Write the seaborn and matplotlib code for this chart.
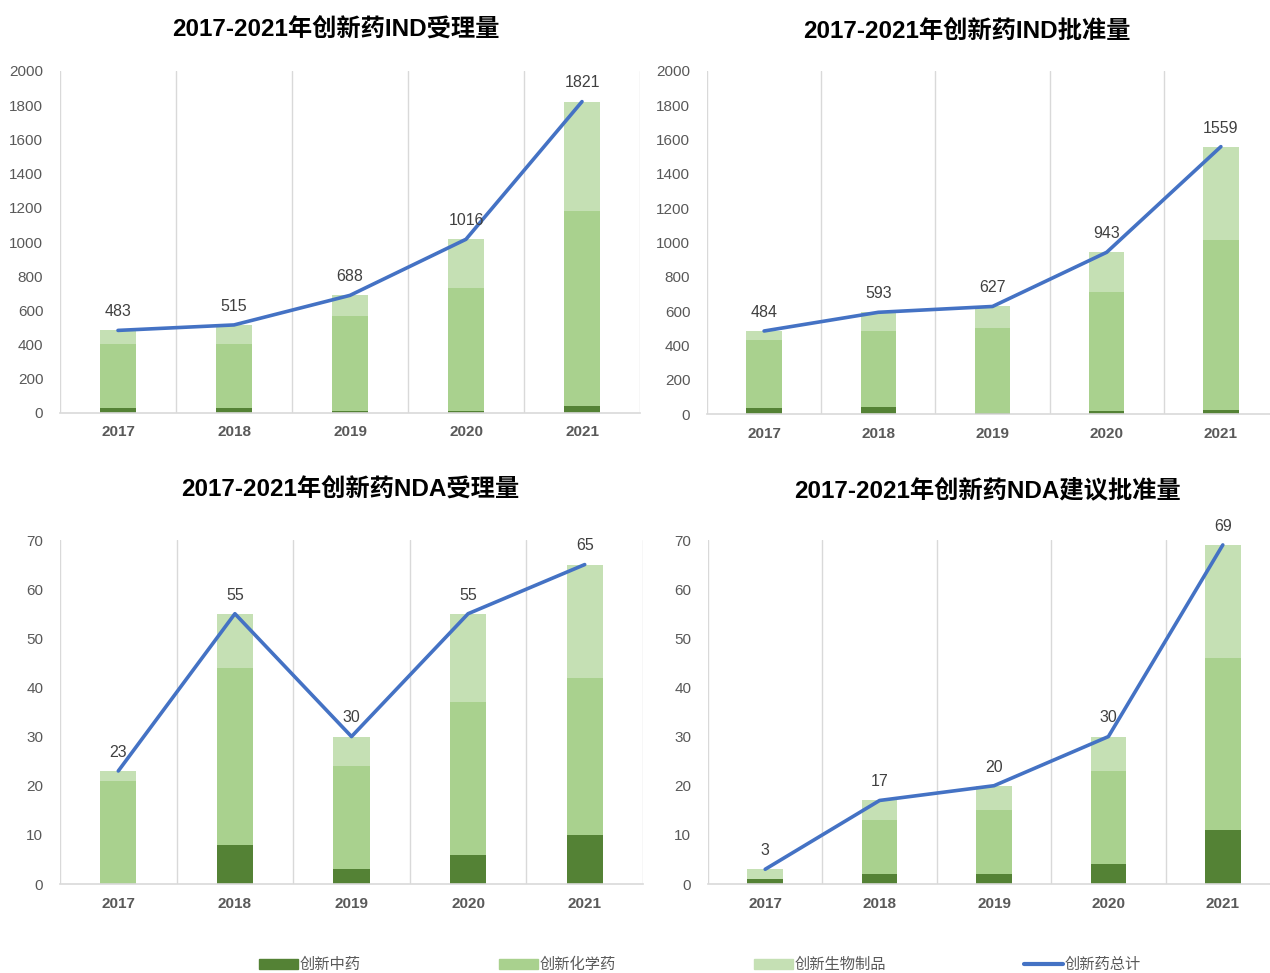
import numpy as np
import seaborn as sns
import matplotlib.pyplot as plt
from matplotlib.patches import Patch
from matplotlib.lines import Line2D

# ---------------- data ----------------
years = ['2017', '2018', '2019', '2020', '2021']

# IND 受理量
ind_acc_tcm = [28, 28, 13, 13, 41]
ind_acc_chem = [376, 376, 554, 720, 1141]
ind_acc_bio = [79, 111, 121, 283, 639]
ind_acc_total = [483, 515, 688, 1016, 1821]

# IND 批准量
ind_app_tcm = [33, 39, 8, 16, 23]
ind_app_chem = [398, 447, 493, 695, 993]
ind_app_bio = [53, 107, 126, 232, 543]
ind_app_total = [484, 593, 627, 943, 1559]

# NDA 受理量
nda_acc_tcm = [0, 8, 3, 6, 10]
nda_acc_chem = [21, 36, 21, 31, 32]
nda_acc_bio = [2, 11, 6, 18, 23]
nda_acc_total = [23, 55, 30, 55, 65]

# NDA 建议批准量
nda_app_tcm = [1, 2, 2, 4, 11]
nda_app_chem = [0, 11, 13, 19, 35]
nda_app_bio = [2, 4, 5, 7, 23]
nda_app_total = [3, 17, 20, 30, 69]

titles = ['2017-2021年创新药IND受理量', '2017-2021年创新药IND批准量',
          '2017-2021年创新药NDA受理量', '2017-2021年创新药NDA建议批准量']
legend_labels = ['创新中药', '创新化学药', '创新生物制品', '创新药总计']

# ---------------- style ----------------
c_tcm = '#548235'
c_chem = '#A9D18E'
c_bio = '#C5E0B4'
c_line = '#4472C4'
grid_c = '#D9D9D9'
txt_c = '#404040'

sns.set_theme(style="white")
plt.rcParams['font.family'] = ['Liberation Sans', 'Noto Sans CJK SC']

fig = plt.figure(figsize=(12.7, 9.73), dpi=100)

panels = [
    # (left, bottom, width, height) in px, data, ymax, ystep, title pos
    ([60, 413, 580, 342], (ind_acc_tcm, ind_acc_chem, ind_acc_bio, ind_acc_total), 2000, 200, (336, 30)),
    ([707, 414, 571, 343], (ind_app_tcm, ind_app_chem, ind_app_bio, ind_app_total), 2000, 200, (967, 32)),
    ([60, 884, 583, 344], (nda_acc_tcm, nda_acc_chem, nda_acc_bio, nda_acc_total), 70, 10, (350, 490)),
    ([708, 884, 572, 344], (nda_app_tcm, nda_app_chem, nda_app_bio, nda_app_total), 70, 10, (987, 490)),
]

W, H = 1270, 973
for i, (box, data, ymax, ystep, tpos) in enumerate(panels):
    l, b, w, h = box
    ax = fig.add_axes([l / W, 1 - b / H, w / W, h / H])
    tcm, chem, bio, total = data
    lvl1 = np.array(tcm)
    lvl2 = lvl1 + np.array(chem)
    lvl3 = lvl2 + np.array(bio)

    # stacked bars drawn as overlapping cumulative layers
    for vals, col in [(lvl3, c_bio), (lvl2, c_chem), (lvl1, c_tcm)]:
        sns.barplot(x=years, y=vals, color=col, width=0.31, saturation=1,
                    edgecolor='none', linewidth=0, ax=ax)

    sns.lineplot(x=np.arange(len(years)), y=total, color=c_line, lw=2.6, ax=ax)

    for xi, v in enumerate(total):
        ax.annotate(str(v), (xi, v), xytext=(0, 8), textcoords='offset points',
                    ha='center', va='bottom', fontsize=11.5, color=txt_c)

    ax.set_xlim(-0.5, len(years) - 0.5)
    ax.set_ylim(0, ymax)
    ax.set_yticks(np.arange(0, ymax + 1, ystep))
    ax.set_xticks(np.arange(-0.5, len(years), 1.0), minor=True)
    ax.grid(True, which='minor', axis='x', color=grid_c, lw=1)
    ax.grid(False, which='major')
    for s in ['left', 'right', 'top']:
        ax.spines[s].set_visible(False)
    ax.spines['bottom'].set_color(grid_c)
    ax.spines['bottom'].set_linewidth(1.2)
    ax.tick_params(axis='both', which='both', length=0)
    ax.tick_params(axis='y', labelsize=11, labelcolor='#595959', pad=12)
    ax.tick_params(axis='x', labelsize=11, labelcolor='#595959', pad=9)
    for lab in ax.get_xticklabels():
        lab.set_fontweight('bold')
    ax.set_xlabel('')
    ax.set_ylabel('')

    fig.text(tpos[0] / W, 1 - tpos[1] / H, titles[i], ha='center', va='center',
             fontsize=17.5, fontweight='bold', color='black')

handles = [Patch(color=c_tcm), Patch(color=c_chem), Patch(color=c_bio),
           Line2D([0], [0], color=c_line, lw=3)]
fig.legend(handles, legend_labels, loc='center', bbox_to_anchor=(700 / W, 1 - 965 / H),
           ncol=4, frameon=False, fontsize=11, labelcolor='#595959',
           handlelength=2.6, handleheight=0.6, columnspacing=9, handletextpad=0.1)

plt.savefig('out.png', dpi=100)
